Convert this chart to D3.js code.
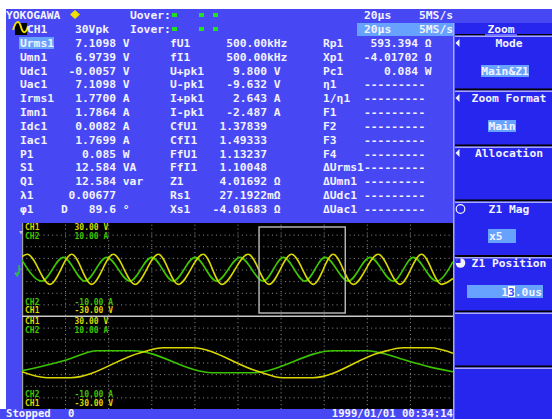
<!DOCTYPE html>
<html>
<head>
<meta charset="utf-8">
<script src="https://cdn.jsdelivr.net/npm/d3@7"></script>
<style>
html, body { margin: 0; padding: 0; background: #ffffff; }
svg { display: block; }
text { font-family: "DejaVu Sans Mono", monospace; font-weight: bold; white-space: pre; }
</style>
</head>
<body>
<div id="chart"></div>
<script>
// numeric readout, column 1
var col1Labels = ["Urms1", "Umn1", "Udc1", "Uac1", "Irms1", "Imn1", "Idc1", "Iac1", "P1", "S1", "Q1", "λ1", "φ1"];
var col1Values = ["7.1098", "6.9739", "-0.0057", "7.1098", "1.7700", "1.7864", "0.0082", "1.7699", "0.085", "12.584", "12.584", "0.00677", "89.6"];
var col1Units  = [" V", " V", " V", " V", " A", " A", " A", " A", " W", " VA", " var", "", " °"];

// column 2
var col2Labels = ["fU1", "fI1", "U+pk1", "U-pk1", "I+pk1", "I-pk1", "CfU1", "CfI1", "FfU1", "FfI1", "Z1", "Rs1", "Xs1"];
var col2Values = ["500.00", "500.00", "9.800", "-9.632", "2.643", "-2.487", "1.37839", "1.49333", "1.13237", "1.10048", "4.01692", "27.1922", "-4.01683"];
var col2Units  = ["kHz", "kHz", " V", " V", " A", " A", "", "", "", "", " Ω", "mΩ", " Ω"];

// column 3
var col3Labels = ["Rp1", "Xp1", "Pc1", "η1", "1/η1", "F1", "F2", "F3", "F4", "ΔUrms1", "ΔUmn1", "ΔUdc1", "ΔUac1"];
var col3Values = ["593.394", "-4.01702", "0.084", "---------", "---------", "---------", "---------", "---------", "---------", "---------", "---------", "---------", "---------"];
var col3Units  = [" Ω", " Ω", " W", "", "", "", "", "", "", "", "", "", ""];

// waveform, main window (us, V) and (us, A)
var mainU = [[0, 8.3], [2.5, 9.8], [13.0, -9.6], [23.1, 9.8], [32.3, -9.6], [42.4, 9.8], [52.4, -9.6], [63.3, 9.8], [72.5, -9.6],
  [84.1, 9.8], [92.7, -9.6], [105.0, 9.8], [114.6, -9.6], [125.1, 9.8], [135.2, -9.6], [144.4, 9.8], [153.7, -9.6],
  [165.3, 9.8], [175.4, -9.6], [185.4, 9.8], [194.7, -9.6], [200, -5.8]];
var mainI = [[0, 2.0], [9.1, -2.5], [19.2, 2.6], [29.2, -2.5], [39.3, 2.6], [50.1, -2.5], [60.2, 2.6], [70.2, -2.5], [80.3, 2.6],
  [90.3, -2.5], [101.2, 2.6], [112.0, -2.5], [121.3, 2.6], [131.3, -2.5], [140.6, 2.6], [151.4, -2.5], [161.5, 2.6],
  [172.3, -2.5], [181.6, 2.6], [192.4, -2.5], [200, 1.7]];

// waveform, zoom window Z1
var zoomU = [[110, -5.9], [112.3, -9.8], [114.5, -9.8], [121.0, 6.3], [123.1, 9.5], [125.8, 9.5], [131.8, -5.5], [134.2, -9.8],
  [137.0, -9.8], [143.2, 6.3], [145.4, 9.5], [147.9, 9.5], [150, 5.9]];
var zoomI = [[110, -1.76], [111.7, -0.9], [114.1, 0.54], [117.0, 2.54], [120.3, 2.54], [127.7, -2.2], [131.4, -2.2], [138.9, 2.54],
  [142.0, 2.54], [146.0, 0.2], [147.9, -1.0], [150, -2.0]];

var mainRange = [0, 200], zoomRange = [110, 150];
var uRange = [-30, 30], iRange = [-10, 10];

// menu on the right
var menuTitles = ["Mode", "Zoom Format", "Allocation", "Z1 Mag", "Z1 Position"];
var menuValues = ["Main&Z1", "Main", "", "x5", "13.0us"];

var W = 552, H = 419;
var BLUE = "#4747f4", PANEL = "#2626ee", HILITE = "#68a2ff", LAV = "#a8a8ff", TXT = "#f2f2ff";
var YEL = "#d8d800", GRN = "#3cc400", GRID = "#949494";

var svg = d3.select("#chart").append("svg")
  .attr("width", W)
  .attr("height", H);

// screen background
svg.append("rect").attr("x", 6).attr("y", 9).attr("width", W - 6).attr("height", H - 9).attr("fill", BLUE);
svg.append("rect").attr("x", 0).attr("y", 409).attr("width", 6).attr("height", 10).attr("fill", BLUE);

function txt(x, y, s, size, color, anchor) {
  return svg.append("text")
    .attr("x", x).attr("y", y)
    .attr("font-size", size || 11.3)
    .attr("fill", color || TXT)
    .attr("text-anchor", anchor || "start")
    .text(s);
}

// header lines
txt(6, 19, "YOKOGAWA");
svg.append("path").attr("d", "M75,10 L80,14.5 L75,19 L70,14.5 Z").attr("fill", "#f0e000");
txt(130, 19, "Uover:");
txt(130, 33, "Iover:");
[172, 199, 213].forEach(function(x) {
  svg.append("rect").attr("x", x).attr("y", 13).attr("width", 5).attr("height", 4).attr("fill", "#20e020");
  svg.append("rect").attr("x", x).attr("y", 27).attr("width", 5).attr("height", 4).attr("fill", "#20e020");
});
// channel icon
svg.append("rect").attr("x", 15).attr("y", 23).attr("width", 12).attr("height", 12).attr("fill", "#000");
svg.append("path").attr("d", "M13,30 C16,20 19,20 21,27 C23,34 26,34 28,26")
  .attr("fill", "none").attr("stroke", "#f0e000").attr("stroke-width", 2);
txt(27, 33, "CH1");
txt(75, 33, "30Vpk");

svg.append("rect").attr("x", 357).attr("y", 23).attr("width", 97).attr("height", 13).attr("fill", HILITE);
txt(364, 19, "20µs");
txt(419, 19, "5MS/s");
txt(364, 33, "20µs");
txt(419, 33, "5MS/s");

// readout table
function rowY(i) { return 43 + i * 13.83 + 4; }
svg.append("rect").attr("x", 19).attr("y", 37).attr("width", 35).attr("height", 12).attr("fill", HILITE);

col1Labels.forEach(function(l, i) {
  txt(20, rowY(i), l);
  txt(116, rowY(i), col1Values[i], null, null, "end");
  txt(116, rowY(i), col1Units[i]);
});
txt(61, rowY(12), "D");

col2Labels.forEach(function(l, i) {
  txt(170, rowY(i), l);
  txt(267, rowY(i), col2Values[i], null, null, "end");
  txt(267, rowY(i), col2Units[i]);
});

col3Labels.forEach(function(l, i) {
  txt(323, rowY(i), l);
  if (col3Values[i].indexOf("---") === 0) txt(364, rowY(i), col3Values[i]);
  else {
    txt(418, rowY(i), col3Values[i], null, null, "end");
    txt(418, rowY(i), col3Units[i]);
  }
});

// right menu panel
svg.append("rect").attr("x", 454).attr("y", 23).attr("width", W - 454).attr("height", H - 23).attr("fill", PANEL);
svg.append("rect").attr("x", 453).attr("y", 23).attr("width", 1.5).attr("height", H - 23).attr("fill", LAV);
txt(501, 33, "Zoom", null, null, "middle");
svg.append("rect").attr("x", 455).attr("y", 34).attr("width", 30).attr("height", 1.5).attr("fill", "#000");
svg.append("rect").attr("x", 517).attr("y", 34).attr("width", 35).attr("height", 1.5).attr("fill", "#000");
svg.append("rect").attr("x", 485).attr("y", 34).attr("width", 32).attr("height", 1.5).attr("fill", "#6a6aff");
svg.append("rect").attr("x", 455).attr("y", 35.5).attr("width", 97).attr("height", 1.5).attr("fill", LAV);

[90, 146, 201, 256.5, 312, 367].forEach(function(b) {
  svg.append("rect").attr("x", 455).attr("y", b - 1.5).attr("width", 97).attr("height", 2).attr("fill", "#000");
  svg.append("rect").attr("x", 455).attr("y", b + 0.5).attr("width", 97).attr("height", 1.5).attr("fill", LAV);
});

var titleY = [43, 98, 153, 209, 263];
menuTitles.forEach(function(t, i) {
  txt(509, titleY[i] + 4, t, null, null, "middle");
});
[43, 98, 153].forEach(function(y) {
  svg.append("path").attr("d", "M455.5," + y + " L459.5," + (y - 4) + " L459.5," + (y + 4) + " Z").attr("fill", TXT);
});
svg.append("circle").attr("cx", 460.5).attr("cy", 209).attr("r", 4.3).attr("fill", "none").attr("stroke", TXT).attr("stroke-width", 1.2);
svg.append("circle").attr("cx", 460.5).attr("cy", 263).attr("r", 4.8).attr("fill", TXT);
svg.append("path").attr("d", "M460.5,263 L460.5,258.2 A4.8,4.8 0 0 0 455.7,263 Z").attr("fill", PANEL);

// value boxes
var boxes = [[481, 65, 48, 12], [488, 120, 28, 12], null, [488, 229, 28, 14], [467, 285, 76, 13]];
boxes.forEach(function(b, i) {
  if (!b) return;
  svg.append("rect").attr("x", b[0]).attr("y", b[1]).attr("width", b[2]).attr("height", b[3]).attr("fill", HILITE);
});
txt(505, 75, menuValues[0], null, null, "middle");
txt(502, 130, menuValues[1], null, null, "middle");
txt(489, 240, menuValues[3]);
// position value with the edit cursor on its second digit
var pos = menuValues[4], cw = 6.8, px0 = 542 - pos.length * cw;
svg.append("rect").attr("x", px0 + cw).attr("y", 286).attr("width", 7).attr("height", 11).attr("fill", "#ffffff");
txt(px0, 295.5, pos.slice(0, 1));
txt(px0 + cw, 295.5, pos.slice(1, 2), null, "#3050ff");
txt(px0 + 2 * cw, 295.5, pos.slice(2));

// waveform display
var left = 22, right = 453, top1 = 223, mid = 316, bot = 409;
svg.append("rect").attr("x", left).attr("y", top1).attr("width", right - left).attr("height", bot - top1).attr("fill", "#000");

var xMain = d3.scaleLinear().domain(mainRange).range([left, right]);
var xZoom = d3.scaleLinear().domain(zoomRange).range([left, right]);
var yTopU = d3.scaleLinear().domain(uRange).range([mid, top1]);
var yTopI = d3.scaleLinear().domain(iRange).range([mid, top1]);
var yBotU = d3.scaleLinear().domain(uRange).range([bot, mid]);
var yBotI = d3.scaleLinear().domain(iRange).range([bot, mid]);

// vertical grid
var gx = svg.append("g")
  .attr("class", "grid")
  .attr("transform", "translate(0," + bot + ")")
  .call(d3.axisBottom(xMain).tickValues(d3.range(20, 200, 20)).tickSize(-(bot - top1)).tickFormat(""));
gx.selectAll("line").attr("stroke", GRID).attr("stroke-dasharray", "1,2.9");

// horizontal grid, both panes
[yTopU, yBotU].forEach(function(y) {
  var g = svg.append("g")
    .attr("class", "grid")
    .attr("transform", "translate(" + left + ",0)")
    .call(d3.axisLeft(y).tickValues([-22.5, -15, -7.5, 0, 7.5, 15, 22.5]).tickSize(-(right - left)).tickFormat(""));
  g.selectAll("line").attr("stroke", GRID).attr("stroke-dasharray", "1,3.31");
});
svg.selectAll(".grid path").remove();

// borders
svg.append("rect").attr("x", left).attr("y", top1).attr("width", 1.2).attr("height", bot - top1).attr("fill", "#a0a0a0");
svg.append("rect").attr("x", left).attr("y", mid - 0.5).attr("width", right - left).attr("height", 1.5).attr("fill", "#c8c8c8");

svg.append("clipPath").attr("id", "clipTop").append("rect")
  .attr("x", left).attr("y", top1).attr("width", right - left).attr("height", mid - top1 - 0.5);
svg.append("clipPath").attr("id", "clipBot").append("rect")
  .attr("x", left).attr("y", mid + 1).attr("width", right - left).attr("height", bot - mid - 1);

function trace(data, x, y, color, clip) {
  var line = d3.line()
    .x(function(d) { return x(d[0]); })
    .y(function(d) { return y(d[1]); })
    .curve(d3.curveMonotoneX);
  svg.append("path")
    .datum(data)
    .attr("clip-path", "url(#" + clip + ")")
    .attr("fill", "none")
    .attr("stroke", color)
    .attr("stroke-width", 1.6)
    .attr("d", line);
}
trace(mainI, xMain, yTopI, GRN, "clipTop");
trace(mainU, xMain, yTopU, YEL, "clipTop");
trace(zoomI, xZoom, yBotI, GRN, "clipBot");
trace(zoomU, xZoom, yBotU, YEL, "clipBot");

// zoom box on the main window
svg.append("rect")
  .attr("x", xMain(zoomRange[0])).attr("y", 227)
  .attr("width", xMain(zoomRange[1]) - xMain(zoomRange[0])).attr("height", 86)
  .attr("fill", "none").attr("stroke", "#bdbdbd").attr("stroke-width", 1.4);

// scale labels
function scaleLabels(t, b) {
  txt(25, t + 3, "CH1", 8, YEL);
  txt(74.5, t + 3, uRange[1].toFixed(2) + " V", 8, YEL);
  txt(25, t + 11.5, "CH2", 8, GRN);
  txt(74.5, t + 11.5, iRange[1].toFixed(2) + " A", 8, GRN);
  txt(25, b - 5.3, "CH2", 8, GRN);
  txt(74.5, b - 5.3, iRange[0].toFixed(2) + " A", 8, GRN);
  txt(25, b + 3, "CH1", 8, YEL);
  txt(74.5, b + 3, uRange[0].toFixed(2) + " V", 8, YEL);
}
scaleLabels(227, 310);
scaleLabels(321, 402.7);

// trigger and pane markers
svg.append("path").attr("d", "M19,231 L23,231 L21,234.5 Z").attr("fill", "#b8b8d8");
svg.append("path").attr("d", "M19,265 L19,273 L15,273 M19,269 L22,269 M15,273 L17,276 L19,273")
  .attr("fill", "none").attr("stroke", "#30d030").attr("stroke-width", 1.2);

// status bar
txt(6, 416.5, "Stopped", 10.6);
txt(68, 416.5, "0", 10.6);
txt(453, 416.5, "1999/01/01 00:34:14", 10.6, null, "end");
</script>
</body>
</html>
